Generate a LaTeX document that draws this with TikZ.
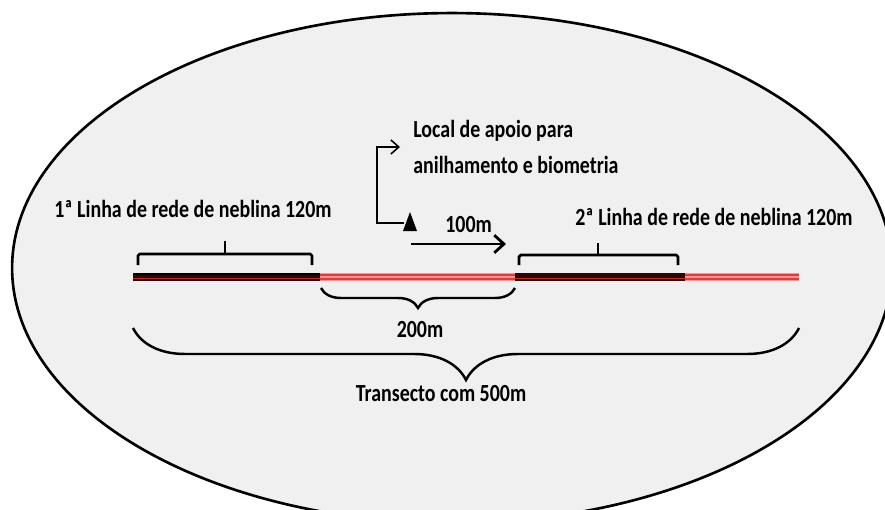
\documentclass[tikz,border=0pt]{standalone}
\usepackage{fontspec}
\setmainfont{Carlito}[FakeStretch=0.81]
\usepackage{tikz}
\usetikzlibrary{arrows.meta,decorations.pathreplacing}
\definecolor{fundo}{HTML}{F0F0F0}
\definecolor{redeesc}{HTML}{2A0606}
\definecolor{redever}{HTML}{C62828}
\definecolor{vaorosa}{HTML}{F29494}
\definecolor{vaover}{HTML}{E53935}

\begin{document}
\begin{tikzpicture}[x=0.02cm,y=-0.02cm,
  rotulo/.style={font=\fontsize{14}{17}\selectfont\bfseries,inner sep=0pt},
  colchete/.style={line width=1.6pt,line join=round,rounded corners=1pt},
  chave/.style={line width=1.4pt,decorate,decoration={brace,mirror,amplitude=#1}},
  seta/.style={line width=1.6pt,-{Straight Barb[length=5.5pt,width=10pt]}},
  ligacao/.style={line width=0.9pt,-{Straight Barb[length=4.5pt,width=8pt]}}]
\useasboundingbox (0,0) rectangle (885,510);
\clip (0,0) rectangle (885,510);
\draw[line width=1.5pt,fill=fundo] (452,268) ellipse [x radius=8.8cm, y radius=5.1cm];

% transecto
\fill[redeesc] (133,273) rectangle (320,281);
\fill[redeesc] (515,273) rectangle (685,281);
\draw[redever,line width=1.1pt] (133,278.5) -- (320,278.5);
\draw[redever,line width=1.1pt] (515,278.5) -- (685,278.5);
\draw[black,line width=0.9pt] (133,273.8) -- (320,273.8);
\fill[vaorosa] (320,273) rectangle (515,281);
\fill[vaorosa] (685,273) rectangle (799,281);
\draw[vaover,line width=1pt] (320,275) -- (515,275) (320,279) -- (515,279);
\draw[vaover,line width=1pt] (685,275) -- (799,275) (685,279) -- (799,279);

% redes
\draw[colchete] (138,265) -- (138,254) -- (312,254) -- (312,265);
\draw[colchete] (225,254) -- (225,241);
\draw[colchete] (519,265) -- (519,255) -- (678,255) -- (678,265);
\draw[colchete] (598,255) -- (598,243);
\node[rotulo,anchor=base west] (rede1) at (54,217) {1ª Linha de rede de neblina 120m};
\node[rotulo,anchor=base west] (rede2) at (575,225) {2ª Linha de rede de neblina 120m};

% apoio
\node[rotulo,align=left,anchor=west,inner xsep=0.26cm] (apoio) at (400,147) {Local de apoio para\\[3pt]anilhamento e biometria};
\fill (403,231) -- (410,212) -- (417,231) -- cycle;
\coordinate (ponto) at (404,223);
\draw[ligacao] (ponto) -- ++(-27,0) |- (apoio.west);

% 100m
\coordinate (ini) at (411,244);
\coordinate (fim) at (506,244);
\draw[seta] (ini) -- (fim);
\node[rotulo,anchor=base west] (cem) at (445,232) {100m};

% distancias
\draw[chave=0.4cm] (321,288) -- (515,288);
\node[rotulo,anchor=base] (duzentos) at (420,337) {200m};
\draw[chave=1.04cm] (133,328) -- (799,328);
\node[rotulo,anchor=base] (transecto) at (441,401) {Transecto com 500m};
\end{tikzpicture}
\end{document}
